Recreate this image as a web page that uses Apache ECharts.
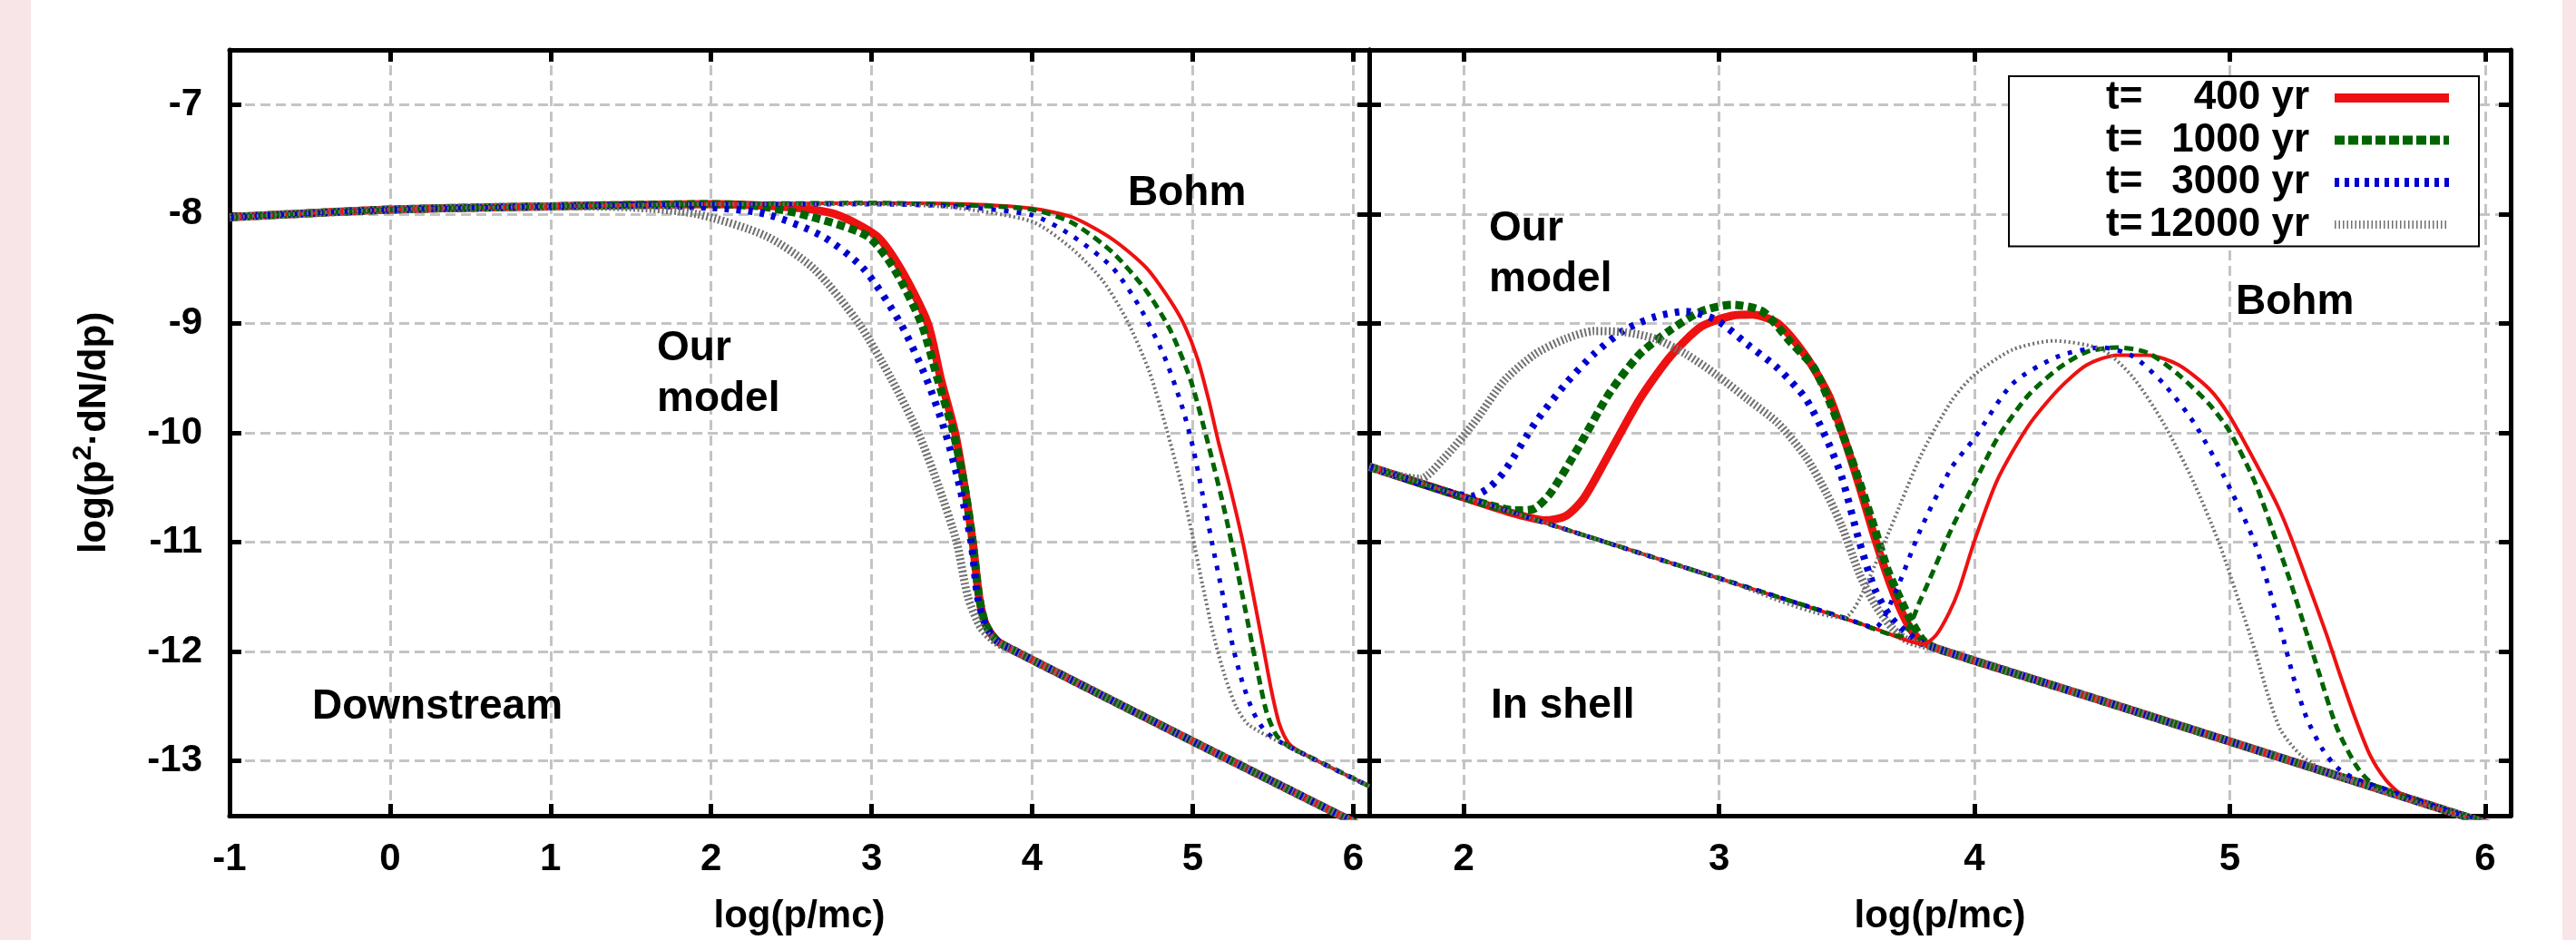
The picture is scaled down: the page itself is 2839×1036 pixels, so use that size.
<!DOCTYPE html>
<html>
<head>
<meta charset="utf-8">
<title>Spectra downstream / in shell</title>
<script src="https://cdn.jsdelivr.net/npm/echarts@6/dist/echarts.min.js"></script>
<style>
  html, body { margin: 0; padding: 0; background: #f8e5e7; }
  #chart {
    width: 2839px; height: 1036px;
    background: linear-gradient(to right, #f8e5e7 0, #f8e5e7 34px, #fff 34px, #fff 2824px, #f8e5e7 2824px);
  }
</style>
</head>
<body>
<div id="chart"></div>
<script>
// legend names (gnuplot style padding kept)
var names = ['t=   400 yr', 't=  1000 yr', 't=  3000 yr', 't=12000 yr'];

// ---- left panel: Downstream ----
// our model (thick)
var dsOur400 = [[-1,-8.03],[0,-7.96],[1,-7.93],[2,-7.91],[2.5,-7.94],[2.77,-8.0],[3.03,-8.2],[3.18,-8.5],[3.35,-9.0],[3.43,-9.5],[3.52,-10.0],[3.58,-10.5],[3.63,-11.0],[3.67,-11.5],[3.71,-11.75],[3.78,-11.9],[3.9,-12.0],[5.0,-12.82],[6.1,-13.63]];
var dsOur1000 = [[-1,-8.03],[0,-7.96],[1,-7.93],[2,-7.91],[2.3,-7.93],[2.56,-8.0],[2.97,-8.2],[3.14,-8.5],[3.31,-9.0],[3.41,-9.5],[3.51,-10.0],[3.58,-10.5],[3.63,-11.0],[3.67,-11.5],[3.71,-11.75],[3.78,-11.9],[3.9,-12.0],[5.0,-12.82],[6.1,-13.63]];
var dsOur3000 = [[-1,-8.03],[0,-7.96],[1,-7.93],[1.5,-7.92],[2.0,-7.94],[2.34,-8.0],[2.69,-8.2],[2.95,-8.5],[3.18,-9.0],[3.34,-9.5],[3.46,-10.0],[3.55,-10.5],[3.62,-11.0],[3.66,-11.5],[3.71,-11.76],[3.78,-11.9],[3.9,-12.0],[5.0,-12.82],[6.1,-13.63]];
var dsOur12000 = [[-1,-8.03],[0,-7.96],[1,-7.93],[1.5,-7.94],[1.91,-8.0],[2.34,-8.2],[2.64,-8.5],[2.92,-9.0],[3.12,-9.5],[3.29,-10.0],[3.42,-10.5],[3.53,-11.0],[3.6,-11.5],[3.68,-11.78],[3.78,-11.92],[3.9,-12.0],[5.0,-12.82],[6.1,-13.63]];
// Bohm (thin)
var dsBohm400 = [[-1,-8.03],[0,-7.96],[1,-7.93],[2,-7.91],[3,-7.9],[3.6,-7.91],[4.0,-7.95],[4.25,-8.03],[4.5,-8.23],[4.71,-8.49],[4.86,-8.79],[4.95,-9.02],[5.03,-9.32],[5.1,-9.7],[5.16,-10.08],[5.23,-10.48],[5.31,-10.98],[5.38,-11.5],[5.44,-11.96],[5.49,-12.35],[5.54,-12.66],[5.6,-12.84],[5.7,-12.94],[6.1,-13.23]];
var dsBohm1000 = [[-1,-8.03],[0,-7.96],[1,-7.93],[2,-7.91],[3,-7.9],[3.6,-7.92],[4.0,-7.96],[4.25,-8.08],[4.5,-8.35],[4.71,-8.7],[4.86,-9.06],[4.99,-9.53],[5.1,-10.12],[5.2,-10.72],[5.27,-11.2],[5.33,-11.63],[5.37,-11.93],[5.41,-12.22],[5.46,-12.55],[5.52,-12.76],[5.6,-12.87],[5.7,-12.94],[6.1,-13.23]];
var dsBohm3000 = [[-1,-8.03],[0,-7.96],[1,-7.93],[2,-7.91],[3,-7.91],[3.5,-7.93],[4.0,-8.01],[4.25,-8.2],[4.5,-8.49],[4.67,-8.85],[4.82,-9.29],[4.93,-9.74],[5.0,-10.12],[5.06,-10.55],[5.12,-11.0],[5.19,-11.5],[5.25,-11.95],[5.31,-12.28],[5.38,-12.56],[5.46,-12.74],[5.6,-12.87],[6.1,-13.23]];
var dsBohm12000 = [[-1,-8.03],[0,-7.96],[1,-7.93],[2,-7.91],[3,-7.91],[3.5,-7.94],[4.0,-8.07],[4.25,-8.32],[4.44,-8.61],[4.59,-8.97],[4.73,-9.44],[4.84,-9.98],[4.93,-10.48],[5.0,-10.95],[5.06,-11.38],[5.13,-11.85],[5.2,-12.22],[5.27,-12.5],[5.35,-12.67],[5.6,-12.87],[6.1,-13.23]];

// ---- right panel: In shell ----
var shOur400 = [[1.63,-10.31],[2.0,-10.59],[2.2,-10.74],[2.32,-10.8],[2.4,-10.76],[2.47,-10.6],[2.57,-10.19],[2.69,-9.69],[2.81,-9.3],[2.93,-9.03],[3.05,-8.93],[3.13,-8.92],[3.23,-9.0],[3.34,-9.3],[3.43,-9.66],[3.49,-10.05],[3.55,-10.49],[3.61,-10.96],[3.67,-11.38],[3.73,-11.71],[3.78,-11.88],[3.85,-11.97],[4.5,-12.45],[6.1,-13.64]];
var shOur1000 = [[1.63,-10.31],[2.0,-10.59],[2.1,-10.66],[2.2,-10.71],[2.27,-10.7],[2.34,-10.55],[2.45,-10.13],[2.57,-9.64],[2.69,-9.28],[2.81,-9.06],[2.93,-8.89],[3.05,-8.83],[3.17,-8.89],[3.28,-9.17],[3.37,-9.4],[3.43,-9.7],[3.49,-10.05],[3.55,-10.45],[3.61,-10.88],[3.66,-11.25],[3.71,-11.52],[3.75,-11.71],[3.8,-11.9],[3.85,-11.97],[4.5,-12.45],[6.1,-13.64]];
var shOur3000 = [[1.63,-10.31],[1.92,-10.53],[2.03,-10.58],[2.1,-10.5],[2.16,-10.35],[2.28,-9.91],[2.4,-9.55],[2.51,-9.28],[2.63,-9.06],[2.75,-8.94],[2.87,-8.89],[2.99,-8.97],[3.11,-9.19],[3.23,-9.41],[3.34,-9.69],[3.42,-10.05],[3.48,-10.4],[3.55,-11.0],[3.61,-11.43],[3.67,-11.68],[3.73,-11.82],[3.79,-11.92],[3.85,-11.97],[4.5,-12.45],[6.1,-13.64]];
var shOur12000 = [[1.63,-10.31],[1.74,-10.39],[1.83,-10.42],[1.92,-10.24],[2.04,-9.91],[2.16,-9.52],[2.28,-9.28],[2.4,-9.14],[2.51,-9.07],[2.63,-9.08],[2.75,-9.14],[2.87,-9.28],[2.99,-9.47],[3.11,-9.69],[3.23,-9.91],[3.34,-10.22],[3.42,-10.55],[3.48,-10.85],[3.55,-11.29],[3.61,-11.57],[3.68,-11.79],[3.74,-11.9],[3.85,-11.97],[4.5,-12.45],[6.1,-13.64]];
var shBohm400 = [[1.63,-10.31],[3.0,-11.33],[3.6,-11.78],[3.8,-11.93],[3.85,-11.85],[3.9,-11.65],[3.94,-11.43],[4.0,-10.99],[4.09,-10.43],[4.21,-9.94],[4.33,-9.6],[4.44,-9.38],[4.56,-9.29],[4.68,-9.29],[4.8,-9.38],[4.92,-9.6],[5.0,-9.85],[5.1,-10.27],[5.19,-10.68],[5.24,-10.96],[5.31,-11.4],[5.38,-11.85],[5.43,-12.2],[5.49,-12.6],[5.55,-12.95],[5.61,-13.17],[5.67,-13.3],[5.8,-13.42],[6.1,-13.64]];
var shBohm1000 = [[1.63,-10.31],[3.0,-11.33],[3.5,-11.7],[3.71,-11.86],[3.79,-11.52],[3.91,-10.88],[4.0,-10.46],[4.09,-10.05],[4.21,-9.66],[4.33,-9.41],[4.44,-9.26],[4.56,-9.22],[4.68,-9.27],[4.8,-9.47],[4.92,-9.74],[5.0,-9.99],[5.1,-10.46],[5.19,-11.04],[5.24,-11.38],[5.29,-11.75],[5.35,-12.2],[5.42,-12.7],[5.5,-13.06],[5.57,-13.23],[5.7,-13.34],[6.1,-13.64]];
var shBohm3000 = [[1.63,-10.31],[3.0,-11.33],[3.5,-11.7],[3.61,-11.78],[3.69,-11.46],[3.79,-10.88],[3.91,-10.32],[4.0,-10.05],[4.15,-9.55],[4.33,-9.3],[4.5,-9.22],[4.62,-9.3],[4.74,-9.55],[4.86,-9.91],[4.98,-10.41],[5.1,-11.02],[5.2,-11.8],[5.25,-12.24],[5.3,-12.6],[5.36,-12.88],[5.42,-13.06],[5.5,-13.17],[6.1,-13.64]];
var shBohm12000 = [[1.63,-10.31],[3.0,-11.33],[3.49,-11.69],[3.55,-11.52],[3.67,-10.88],[3.79,-10.21],[3.91,-9.71],[4.0,-9.47],[4.15,-9.24],[4.31,-9.16],[4.5,-9.24],[4.62,-9.49],[4.74,-9.91],[4.86,-10.46],[4.96,-11.02],[5.04,-11.57],[5.1,-12.0],[5.15,-12.4],[5.2,-12.72],[5.28,-12.95],[5.4,-13.12],[6.1,-13.64]];

var FONT = '"Liberation Sans", Arial, Helvetica, sans-serif';
var colors = ['#ee1111', '#006400', '#0000d0', '#707070'];
// our model = thick, Bohm = thin
var thick = [{ width: 9, type: 'solid' }, { width: 9, type: [9, 5] }, { width: 8, type: [5, 8] }, { width: 9, type: [2, 2.5] }];
var thin = [{ width: 4, type: 'solid' }, { width: 5, type: [10, 6] }, { width: 5, type: [5, 9] }, { width: 4, type: [2, 3] }];

var gridLine = { color: '#c4c4c4', width: 3, type: [11, 6] };
var labelFont = { color: '#000', fontSize: 42, fontWeight: 'bold', fontFamily: FONT };

function intOnly(v) {
    return Number.isInteger(v) ? String(v) : '';
}

function xAx(grid, pos, min, max) {
    var main = pos === 'bottom';
    return {
        type: 'value', gridIndex: grid, position: pos, min: min, max: max,
        minInterval: 1, maxInterval: 1,
        name: main ? 'log(p/mc)' : '', nameLocation: 'middle', nameGap: 90,
        nameTextStyle: labelFont,
        axisLine: { show: true, onZero: false, lineStyle: { color: '#000', width: 5 } },
        axisTick: { show: true, inside: true, length: 13, lineStyle: { color: '#000', width: 5 } },
        axisLabel: Object.assign({ show: main, margin: 27, formatter: intOnly }, labelFont),
        splitLine: { show: main, lineStyle: gridLine }
    };
}

// y label with a raised small "2"
var yNameRich = {
    n: { fontSize: 42, fontWeight: 'bold', fontFamily: FONT, color: '#000', lineHeight: 48, verticalAlign: 'bottom' },
    s: { fontSize: 30, fontWeight: 'bold', fontFamily: FONT, color: '#000', lineHeight: 30, verticalAlign: 'top' }
};

function yAx(grid, pos, labels) {
    return {
        type: 'value', gridIndex: grid, position: pos, min: -13.5, max: -6.5,
        minInterval: 1, maxInterval: 1,
        name: labels ? '{n|log(p}{s|2}{n|·dN/dp)}' : '', nameLocation: 'middle', nameGap: 128,
        nameTextStyle: Object.assign({ lineHeight: 70, rich: yNameRich }, labelFont),
        axisLine: { show: true, onZero: false, lineStyle: { color: '#000', width: 5 } },
        axisTick: { show: true, inside: true, length: 13, lineStyle: { color: '#000', width: 5 } },
        axisLabel: Object.assign({ show: labels, margin: 30, formatter: intOnly }, labelFont),
        splitLine: { show: pos === 'left', lineStyle: gridLine }
    };
}

function line(i, data, panel, style) {
    return {
        name: names[i], type: 'line', data: data,
        xAxisIndex: panel * 2, yAxisIndex: panel * 2,
        symbol: 'none', smooth: 0.25, animation: false,
        lineStyle: { color: colors[i], width: style.width, type: style.type, cap: 'butt' }
    };
}

var series = [
    line(0, dsOur400, 0, thick[0]), line(1, dsOur1000, 0, thick[1]), line(2, dsOur3000, 0, thick[2]), line(3, dsOur12000, 0, thick[3]),
    line(0, dsBohm400, 0, thin[0]), line(1, dsBohm1000, 0, thin[1]), line(2, dsBohm3000, 0, thin[2]), line(3, dsBohm12000, 0, thin[3]),
    line(0, shOur400, 1, thick[0]), line(1, shOur1000, 1, thick[1]), line(2, shOur3000, 1, thick[2]), line(3, shOur12000, 1, thick[3]),
    line(0, shBohm400, 1, thin[0]), line(1, shBohm1000, 1, thin[1]), line(2, shBohm3000, 1, thin[2]), line(3, shBohm12000, 1, thin[3])
];

var legendLines = [{ width: 10, type: 'solid' }, { width: 10, type: [11, 4] }, { width: 10, type: [5, 6] }, { width: 9, type: [1.5, 3] }];
var richBase = { fontSize: 44, fontWeight: 'bold', fontFamily: FONT, color: '#000', lineHeight: 44 };

function ann(text, x, y, top) {
    return {
        type: 'text', x: x, y: y, silent: true, z: 100,
        style: {
            text: text, fill: '#000', fontSize: 46, fontWeight: 'bold', fontFamily: FONT,
            lineHeight: 56, align: 'left', verticalAlign: top ? 'top' : 'middle'
        }
    };
}

var myChart = echarts.init(document.getElementById('chart'));
var option = {
    backgroundColor: 'transparent',
    animation: false,
    grid: [
        { left: 253, right: 1330, top: 55, bottom: 137 },
        { left: 1509, right: 72, top: 55, bottom: 137 }
    ],
    xAxis: [xAx(0, 'bottom', -1, 6.1), xAx(0, 'top', -1, 6.1), xAx(1, 'bottom', 1.63, 6.1), xAx(1, 'top', 1.63, 6.1)],
    yAxis: [yAx(0, 'left', true), yAx(0, 'right', false), yAx(1, 'left', false), yAx(1, 'right', false)],
    legend: {
        data: names.map(function (n, i) {
            return { name: n, lineStyle: { color: colors[i], width: legendLines[i].width, type: legendLines[i].type, cap: 'butt' } };
        }),
        orient: 'vertical', right: 107, top: 84, align: 'right',
        backgroundColor: '#fff', borderColor: '#000', borderWidth: 2, borderRadius: 0,
        padding: [2, 28, 2, 107], itemGap: 2.5, itemWidth: 126, itemHeight: 44,
        selectedMode: false,
        itemStyle: { opacity: 0 },
        textStyle: Object.assign({
            rich: {
                a: Object.assign({ width: 48, align: 'left' }, richBase),
                b: Object.assign({ width: 176, align: 'right' }, richBase),
                c: Object.assign({ width: 23 }, richBase)
            }
        }, richBase),
        formatter: function (name) {
            var parts = name.split('=');
            return '{a|t=}{b|' + parts[1].trim() + '}{c|}';
        }
    },
    graphic: [
        ann('Bohm', 1243, 213),
        ann('Our\nmodel', 724, 356, true),
        ann('Downstream', 344, 779),
        ann('Our\nmodel', 1641, 224, true),
        ann('Bohm', 2464, 333),
        ann('In shell', 1643, 778)
    ],
    series: series
};
myChart.setOption(option);
</script>
</body>
</html>
